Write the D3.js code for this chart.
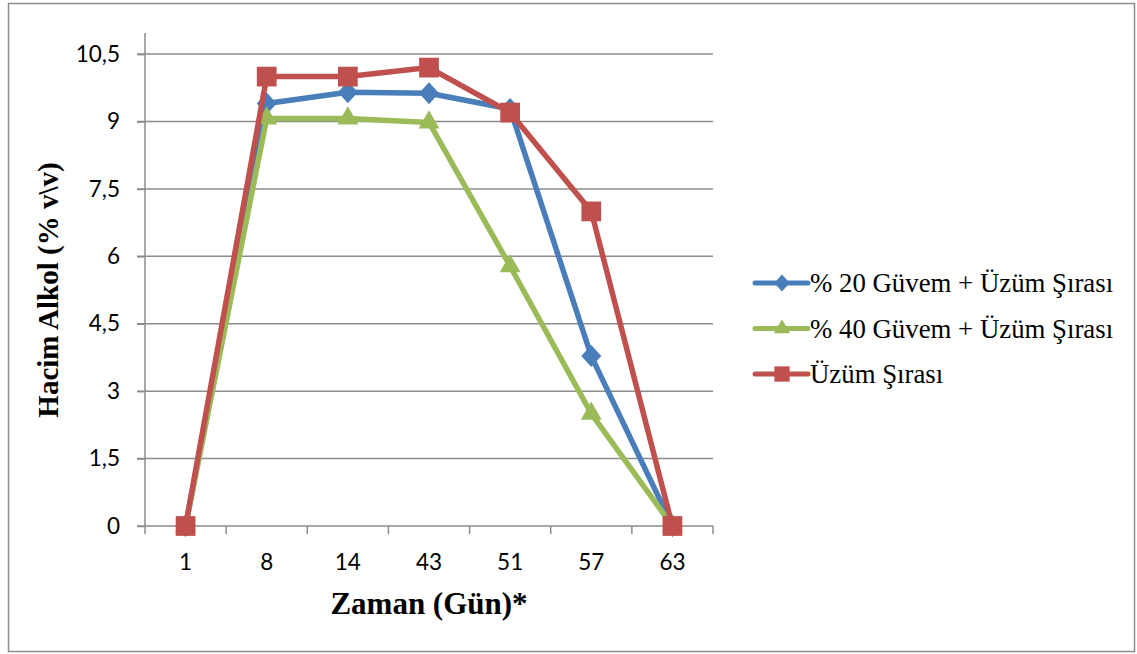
<!DOCTYPE html>
<html>
<head>
<meta charset="utf-8">
<script src="https://cdn.jsdelivr.net/npm/d3@7"></script>
<style>
  body { margin: 0; background: #fff; }
  svg { display: block; }
</style>
</head>
<body>
<svg id="chart"></svg>
<script>
// chart data
var days = ["1", "8", "14", "43", "51", "57", "63"];
var yTicks = [0, 1.5, 3, 4.5, 6, 7.5, 9, 10.5];
var seriesNames = ["% 20 Güvem + Üzüm Şırası", "% 40 Güvem + Üzüm Şırası", "Üzüm Şırası"];
var guvem20 = [0, 9.4, 9.65, 9.63, 9.28, 3.78, 0];
var guvem40 = [0, 9.07, 9.07, 8.98, 5.78, 2.5, 0];
var uzum = [0, 10, 10, 10.2, 9.2, 7, 0];

var width = 1137, height = 654;
var plot = { left: 145, right: 713, top: 33, bottom: 526 };
var axisColor = "#8c8c8c";
var numFont = "Lato, 'Open Sans', sans-serif";
var serif = "'Liberation Serif', 'Times New Roman', serif";

var svg = d3.select("#chart").attr("width", width).attr("height", height);

// outer frame
svg.append("rect")
   .attr("x", 8.5).attr("y", 3.5)
   .attr("width", 1126).attr("height", 648)
   .attr("fill", "none").attr("stroke", axisColor).attr("stroke-width", 1.5);

var xscale = d3.scaleBand().domain(days).range([plot.left, plot.right]);
var yscale = d3.scaleLinear().domain([0, 10.97]).range([plot.bottom, plot.top]);

// horizontal gridlines
svg.append("g").selectAll("line")
   .data(yTicks.filter(function(d) { return d > 0; }))
   .enter().append("line")
   .attr("x1", plot.left - 8).attr("x2", plot.right)
   .attr("y1", function(d) { return yscale(d); })
   .attr("y2", function(d) { return yscale(d); })
   .attr("stroke", axisColor).attr("stroke-width", 1.5);

// y axis
var yAxis = d3.axisLeft(yscale).tickValues(yTicks).tickSize(8).tickPadding(17)
              .tickFormat(function(d) { return String(d).replace(".", ","); });
var yg = svg.append("g").attr("transform", "translate(" + plot.left + ",0)").call(yAxis);
yg.select(".domain").attr("stroke", axisColor).attr("stroke-width", 1.5)
  .attr("d", "M0," + plot.top + "V" + plot.bottom);
yg.selectAll(".tick line").attr("stroke", axisColor).attr("stroke-width", 1.5);
yg.selectAll(".tick text").attr("font-family", numFont)
  .attr("font-size", 22.5).attr("fill", "#000");

// x axis
var xAxis = d3.axisBottom(xscale).tickSize(0).tickPadding(28);
var xg = svg.append("g").attr("transform", "translate(0," + plot.bottom + ")").call(xAxis);
xg.select(".domain").attr("stroke", axisColor).attr("stroke-width", 1.5)
  .attr("d", "M" + (plot.left - 8) + ",0H" + plot.right);
xg.selectAll(".tick text").attr("font-family", numFont)
  .attr("font-size", 22.5).attr("fill", "#000");
// category boundary ticks
var bounds = days.map(function(d) { return xscale(d); }).concat([plot.right]);
xg.selectAll(".bound").data(bounds).enter().append("line")
  .attr("x1", function(d) { return d; }).attr("x2", function(d) { return d; })
  .attr("y1", 0).attr("y2", 8)
  .attr("stroke", axisColor).attr("stroke-width", 1.5);

// axis titles
svg.append("text")
   .attr("x", 429).attr("y", 614)
   .attr("text-anchor", "middle")
   .attr("font-family", serif)
   .attr("font-weight", "bold").attr("font-size", 31)
   .text("Zaman (Gün)*");

svg.append("text")
   .attr("transform", "translate(58,290) rotate(-90)")
   .attr("text-anchor", "middle")
   .attr("font-family", serif)
   .attr("font-weight", "bold").attr("font-size", 29)
   .text("Hacim Alkol (% v\\v)");

// excel-style diamond (nearly square)
var diamond = {
  draw: function(ctx, size) {
    var r = Math.sqrt(size) / 2;
    ctx.moveTo(0, -r * 1.1);
    ctx.lineTo(r, 0);
    ctx.lineTo(0, r * 1.1);
    ctx.lineTo(-r, 0);
    ctx.closePath();
  }
};

// series
var series = [
  { name: seriesNames[0], values: guvem20, color: "#4a7ebb", shape: diamond, size: 400 },
  { name: seriesNames[1], values: guvem40, color: "#9bbb59", shape: d3.symbolTriangle, size: 190 },
  { name: seriesNames[2], values: uzum, color: "#c0504d", shape: d3.symbolSquare, size: 390 }
];

var line = d3.line()
  .x(function(d, i) { return xscale(days[i]) + xscale.bandwidth() / 2; })
  .y(function(d) { return yscale(d); });

series.forEach(function(s) {
  var g = svg.append("g");
  g.append("path")
   .attr("d", line(s.values))
   .attr("fill", "none").attr("stroke", s.color)
   .attr("stroke-width", 5.5).attr("stroke-linejoin", "round");
  g.selectAll("path.mk").data(s.values).enter().append("path")
   .attr("class", "mk")
   .attr("transform", function(d, i) {
     return "translate(" + (xscale(days[i]) + xscale.bandwidth() / 2) + "," + yscale(d) + ")";
   })
   .attr("d", d3.symbol().type(s.shape).size(s.size))
   .attr("fill", s.color);
});

// legend
var legend = svg.append("g").attr("transform", "translate(755,283)");
series.forEach(function(s, i) {
  var row = legend.append("g").attr("transform", "translate(0," + (i * 45.5) + ")");
  row.append("line").attr("x1", 0).attr("x2", 53).attr("y1", 0).attr("y2", 0)
     .attr("stroke", s.color).attr("stroke-width", 5).attr("stroke-linecap", "round");
  row.append("path").attr("transform", "translate(27,0)")
     .attr("d", d3.symbol().type(s.shape).size(s.size * 0.6))
     .attr("fill", s.color);
  row.append("text").attr("x", 55).attr("y", 9)
     .attr("font-family", serif)
     .attr("font-size", 26.8).attr("fill", "#000")
     .text(s.name);
});
</script>
</body>
</html>
